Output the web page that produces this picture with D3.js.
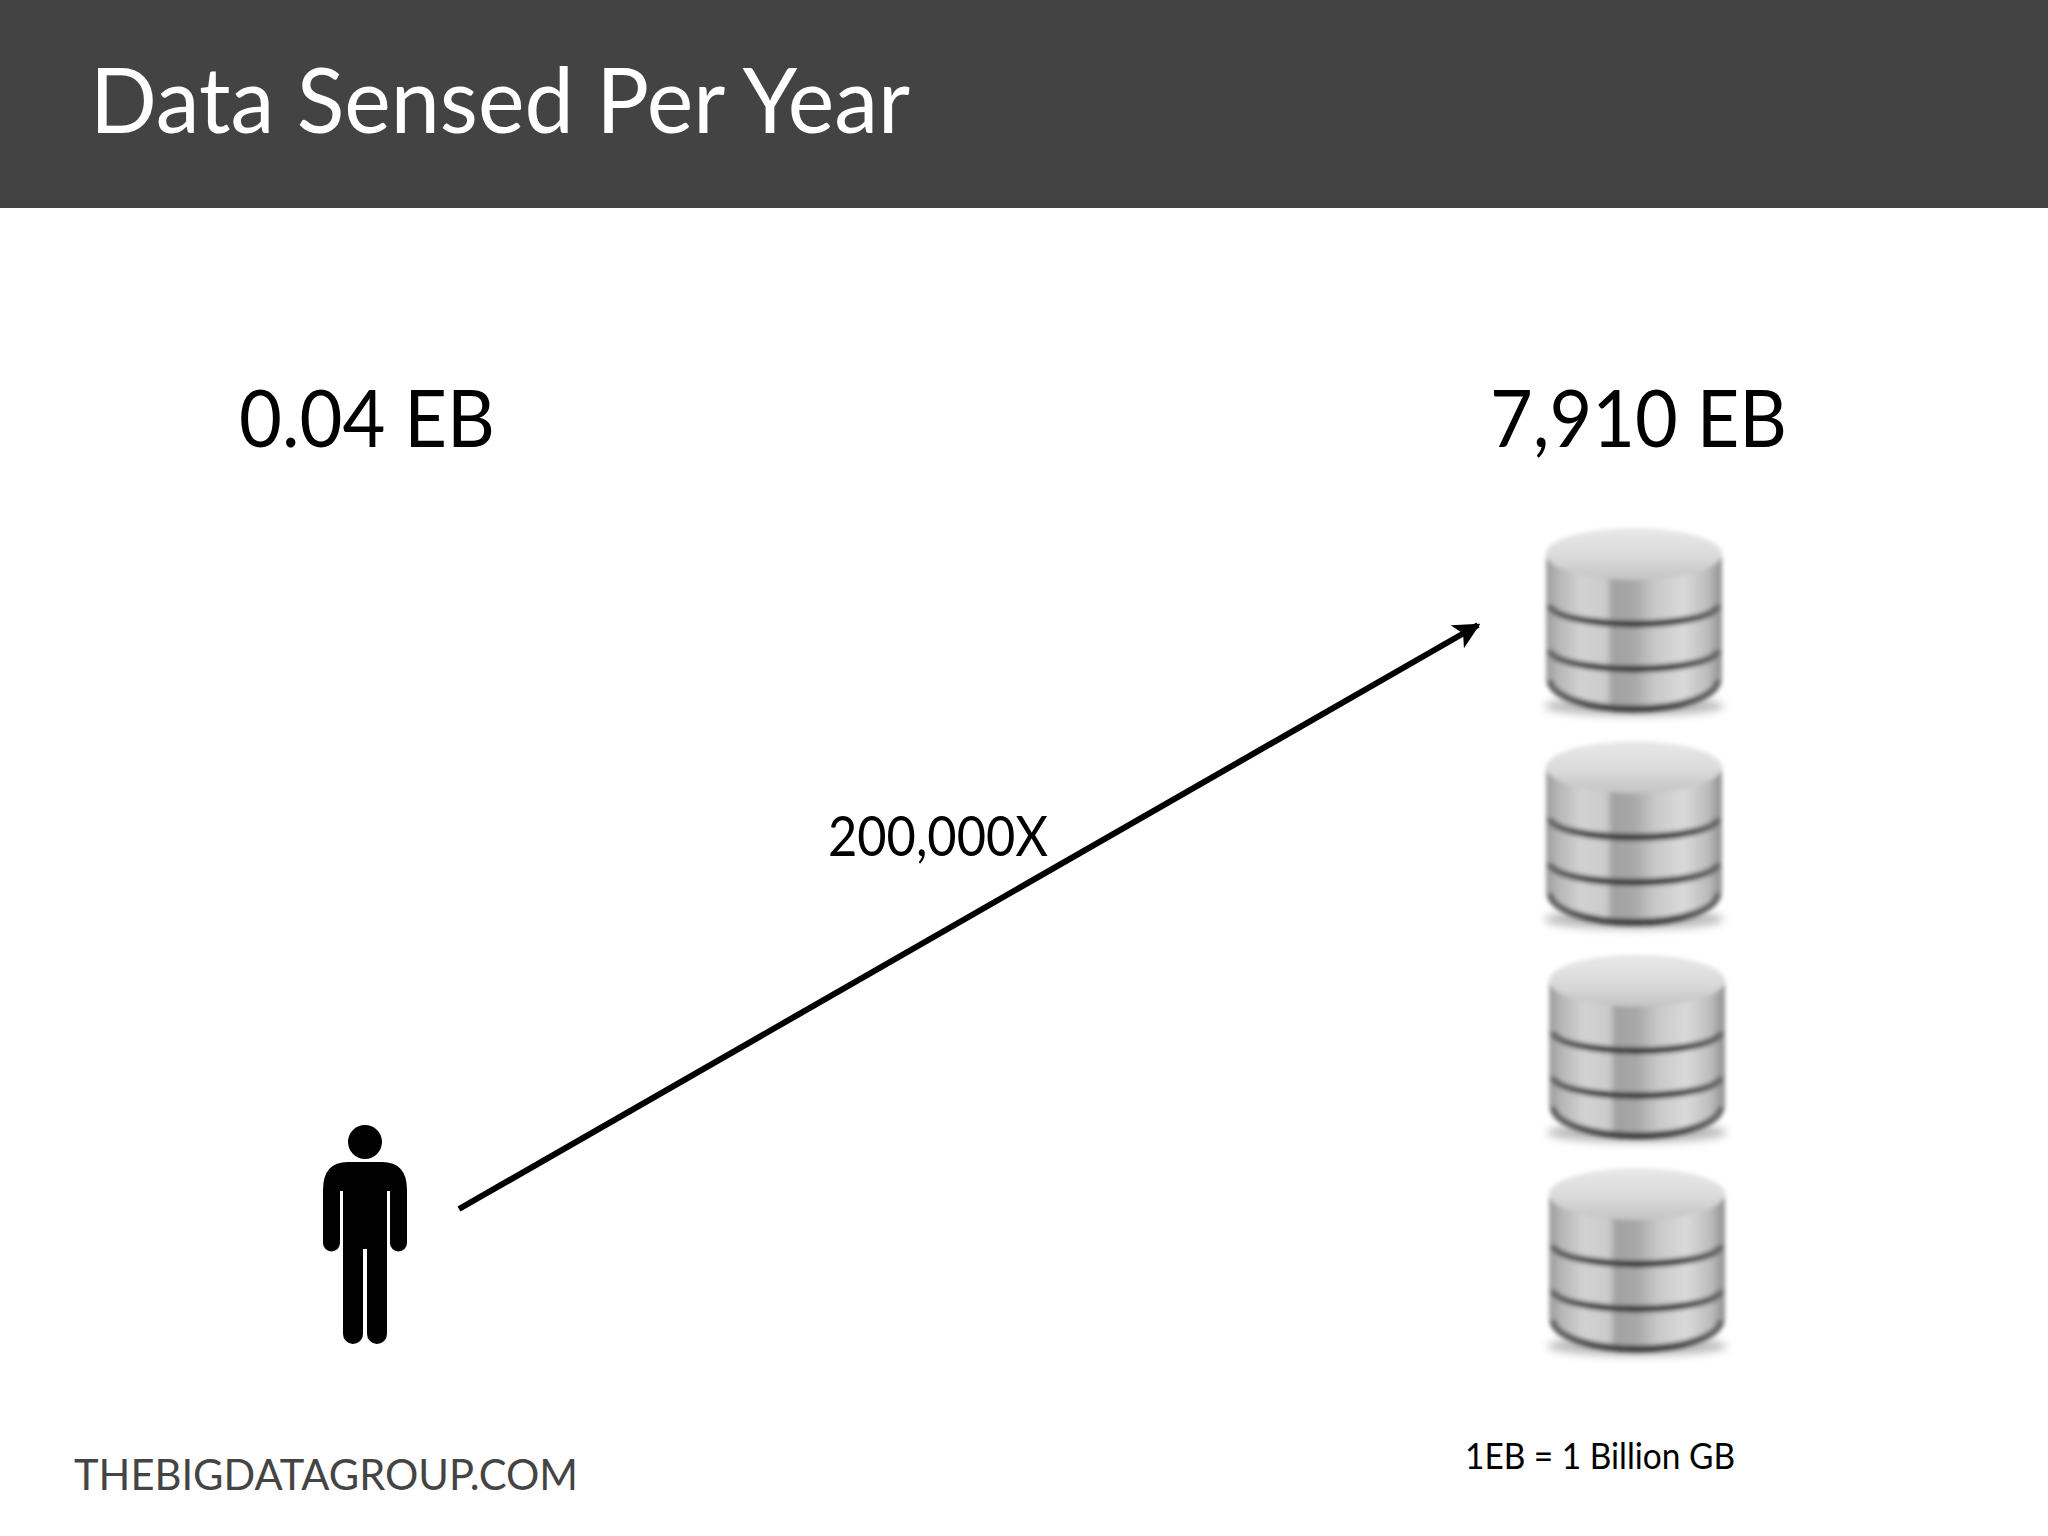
<!DOCTYPE html>
<html>
<head>
<meta charset="utf-8">
<title>Data Sensed Per Year</title>
<script src="https://cdn.jsdelivr.net/npm/d3@7"></script>
<style>
  html, body { margin: 0; padding: 0; background: #fff; }
  svg { display: block; }
  text { font-family: Lato, "Open Sans", sans-serif; }
</style>
</head>
<body>
<svg id="chart" width="2048" height="1536"></svg>
<script>
const titleText = "Data Sensed Per Year";
const categories = ["Human", "Machines"];
const valueLabels = ["0.04 EB", "7,910 EB"];
const multiplierLabel = "200,000X";
const footerLabel = "THEBIGDATAGROUP.COM";
const unitNote = "1EB = 1 Billion GB";
const stacks = [1, 2, 3, 4];
const platters = [1, 2, 3];

const svg = d3.select("#chart");
const x = d3.scalePoint().domain(categories).range([365, 1634]);
const rowY = d3.scaleBand().domain(stacks).range([528, 1350]).paddingInner(0.147).paddingOuter(0);

const defs = svg.append("defs");

function addGradient(id, horizontal, stops) {
    const g = defs.append("linearGradient")
        .attr("id", id)
        .attr("x1", 0).attr("y1", 0)
        .attr("x2", horizontal ? 1 : 0).attr("y2", horizontal ? 0 : 1);
    stops.forEach(s => {
        g.append("stop").attr("offset", s[0]).attr("stop-color", s[1]);
    });
}

addGradient("side", true, [
    [0, "#9c9c9c"], [0.07, "#b6b6b6"], [0.2, "#d2d2d2"], [0.34, "#cbcbcb"],
    [0.38, "#a2a2a2"], [0.5, "#a8a8a8"], [0.62, "#c8c8c8"], [0.78, "#dadada"],
    [0.92, "#bcbcbc"], [1, "#8e8e8e"]
]);
addGradient("lid", false, [
    [0, "#e8e8e8"], [0.5, "#dcdcdc"], [1, "#c4c4c4"]
]);
addGradient("groove", true, [
    [0, "#6a6a6a"], [0.25, "#484848"], [0.5, "#3c3c3c"], [0.75, "#484848"], [1, "#6a6a6a"]
]);

defs.append("filter").attr("id", "soft")
    .attr("x", "-10%").attr("y", "-10%").attr("width", "120%").attr("height", "125%")
    .append("feGaussianBlur").attr("stdDeviation", 2);
defs.append("filter").attr("id", "shadow")
    .attr("x", "-10%").attr("y", "-40%").attr("width", "120%").attr("height", "180%")
    .append("feGaussianBlur").attr("stdDeviation", 4);

// header band
svg.append("rect")
    .attr("width", 2048).attr("height", 208)
    .attr("fill", "#434343");

svg.append("text")
    .attr("x", 90).attr("y", 133)
    .attr("font-size", 92)
    .attr("fill", "#ffffff")
    .attr("textLength", 820).attr("lengthAdjust", "spacingAndGlyphs")
    .text(titleText);

// big values above each column
const valueWidths = [256, 297];
svg.selectAll("text.value")
    .data(valueLabels)
    .join("text")
    .attr("class", "value")
    .attr("x", (d, i) => i === 0 ? 239 : 1490)
    .attr("y", 447)
    .attr("font-size", 80)
    .attr("fill", "#000")
    .attr("textLength", (d, i) => valueWidths[i])
    .attr("lengthAdjust", "spacingAndGlyphs")
    .text(d => d);

// person
const person = svg.append("g")
    .attr("transform", "translate(" + x("Human") + ",0)");

person.append("circle")
    .attr("cx", 0).attr("cy", 1142).attr("r", 17)
    .attr("fill", "#000");

person.append("path")
    .attr("fill", "#000")
    .attr("d", "M-17,1162 L17,1162 Q42,1162 42,1190 L42,1243 A8.5,8.5 0 0 1 25,1243 "
        + "L25,1191 L22,1191 L22,1334 A10,10 0 0 1 2,1334 L2,1249 L-2,1249 L-2,1334 "
        + "A10,10 0 0 1 -22,1334 L-22,1191 L-25,1191 L-25,1243 A8.5,8.5 0 0 1 -42,1243 "
        + "L-42,1190 Q-42,1162 -17,1162 Z");

// arrow
defs.append("marker")
    .attr("id", "head")
    .attr("viewBox", "0 0 10 10")
    .attr("refX", 9).attr("refY", 5)
    .attr("markerWidth", 4.4).attr("markerHeight", 4.4)
    .attr("markerUnits", "strokeWidth")
    .attr("orient", "auto")
    .append("path")
    .attr("d", "M0,0 L10,5 L0,10 L2.5,5 Z")
    .attr("fill", "#000");

svg.append("line")
    .attr("x1", 459).attr("y1", 1209)
    .attr("x2", 1478).attr("y2", 625)
    .attr("stroke", "#000")
    .attr("stroke-width", 6)
    .attr("marker-end", "url(#head)");

svg.append("text")
    .attr("x", 828).attr("y", 856)
    .attr("font-size", 56)
    .attr("fill", "#000")
    .attr("textLength", 220).attr("lengthAdjust", "spacingAndGlyphs")
    .text(multiplierLabel);

// database icons
const rx = 88;
const bodyH = 182;

const icons = svg.selectAll("g.db")
    .data(stacks)
    .join("g")
    .attr("class", "db")
    .attr("transform", d => "translate(" + (x("Machines") + (d > 2 ? 3 : 0)) + "," + rowY(d) + ")");

icons.append("ellipse")
    .attr("cx", 0).attr("cy", bodyH - 4)
    .attr("rx", rx + 2).attr("ry", 10)
    .attr("fill", "#bbb")
    .attr("filter", "url(#shadow)");

const cyl = icons.append("g").attr("filter", "url(#soft)");

cyl.append("path")
    .attr("fill", "url(#side)")
    .attr("d", `M${-rx},26 L${-rx},${bodyH - 32} A${rx},30 0 0 0 ${rx},${bodyH - 32} L${rx},26 Z`);

cyl.selectAll("path.groove")
    .data(platters)
    .join("path")
    .attr("class", "groove")
    .attr("fill", "none")
    .attr("stroke", "url(#groove)")
    .attr("stroke-width", 7)
    .attr("d", d => {
        const edge = [77, 122, bodyH - 30][d - 1];
        return `M${-rx + 4},${edge} A${rx - 4},${d === 3 ? 29 : 19} 0 0 0 ${rx - 4},${edge}`;
    });

cyl.append("ellipse")
    .attr("cx", 0).attr("cy", 26)
    .attr("rx", rx).attr("ry", 26)
    .attr("fill", "url(#lid)");

// footer notes
svg.append("text")
    .attr("x", 74).attr("y", 1490)
    .attr("font-size", 43)
    .attr("fill", "#444444")
    .attr("textLength", 504).attr("lengthAdjust", "spacingAndGlyphs")
    .text(footerLabel);

svg.append("text")
    .attr("x", 1465).attr("y", 1469)
    .attr("font-size", 36)
    .attr("fill", "#000")
    .attr("textLength", 270).attr("lengthAdjust", "spacingAndGlyphs")
    .text(unitNote);
</script>
</body>
</html>
